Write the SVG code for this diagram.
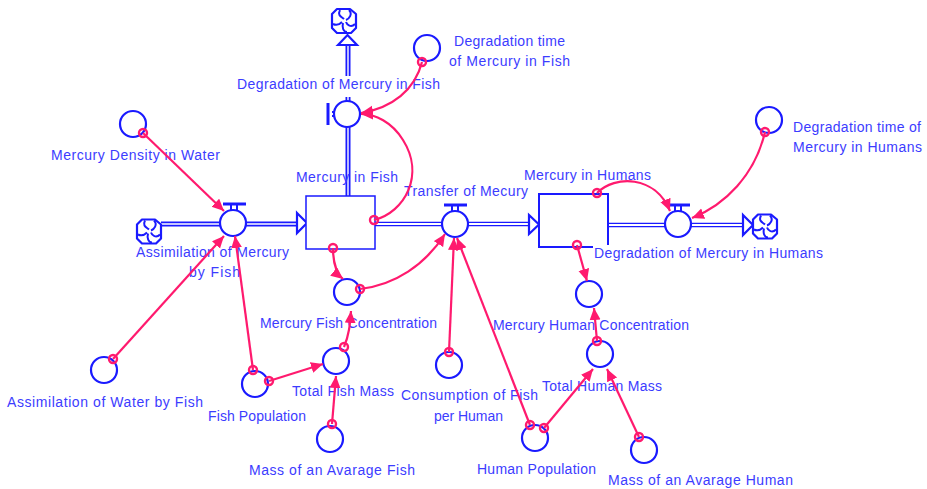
<svg xmlns="http://www.w3.org/2000/svg" width="927" height="489" viewBox="0 0 927 489">
<defs>
<marker id="a" markerUnits="userSpaceOnUse" markerWidth="14" markerHeight="12" refX="12" refY="5.5" orient="auto"><path d="M0 0L12 5.5L0 11z" fill="#ff1a6e"/></marker>
<g id="cloud"><path d="M-7 -12H6L12 -7V7L7 12H-7L-12 7V-7z" fill="#fff" stroke="#1a1aff" stroke-width="2.2" stroke-linejoin="round"/><path d="M-4 -11C-7 -5 -2 -4 0 -2M5 -11C9 -7 5 -2 2 -1M11 3C7 7 3 4 2 1M3 11C-1 11 -2 6 -1 2M-11 3C-7 5 -4 3 -2 1" fill="none" stroke="#1a1aff" stroke-width="2"/></g>
</defs>
<style>
text{font-family:"Liberation Sans",Arial,sans-serif;font-size:14px;fill:#3c3cff}
.c{fill:#fff;stroke:#1a1aff;stroke-width:2.2}
.f{fill:none;stroke:#1a1aff;stroke-width:5}
.fi{fill:none;stroke:#fff;stroke-width:1.4}
.g{fill:none;stroke:#1a1aff;stroke-width:4.4}
.gi{fill:none;stroke:#fff;stroke-width:1.8}
.h{fill:#fff;stroke:#1a1aff;stroke-width:2.2}
.l{fill:none;stroke:#ff1a6e;stroke-width:2.2;marker-end:url(#a)}
.o{fill:none;stroke:#ff1a6e;stroke-width:2.4}
.v{fill:none;stroke:#1a1aff;stroke-width:2}
.b{fill:none;stroke:#1a1aff;stroke-width:3}
</style>
<g id="flows">
<path class="f" d="M161 224H300M348 97V196M348 45V76"/>
<path class="fi" d="M161 224H300M348 97V196M348 45V76"/>
<path class="g" d="M375 224H530M608 225H745"/>
<path class="gi" d="M375 224H530M608 225H745"/>
<path class="h" d="M297 213L307 223L297 233zM338 45L347.500 35L357 45zM529 215L539 224.500L529 234zM743 215L753 225L743 235z"/>
</g>
<g id="node-stock-fish"><rect x="306" y="196" width="69" height="53" fill="#fff" stroke="#1a1aff" stroke-width="1.500"/><text x="296" y="182" textLength="102">Mercury in Fish</text></g>
<g id="node-stock-humans"><path d="M608 194H539V247H593" fill="#fff" stroke="none"/><path d="M608 245V194H539V247H593" fill="none" stroke="#1a1aff" stroke-width="2"/><text x="524" y="180" textLength="127">Mercury in Humans</text></g>
<g id="node-cloud-source"><use href="#cloud" x="149" y="231.500"/></g>
<g id="node-cloud-top"><use href="#cloud" x="344" y="21"/></g>
<g id="node-cloud-right"><use href="#cloud" x="765" y="226.500"/></g>
<g id="node-assimilation"><path class="b" d="M223 204H246"/><path class="v" d="M231 205V211M237 205V211"/><circle class="c" cx="233" cy="223" r="13"/><text x="136" y="257" textLength="153">Assimilation of Mercury</text><text x="189" y="277" textLength="51">by Fish</text></g>
<g id="node-degradation-fish"><path class="b" d="M328 103V125"/><path class="v" d="M332 112H335M332 116H335"/><circle class="c" cx="347" cy="114" r="13"/><text x="237" y="89" textLength="203">Degradation of Mercury in Fish</text></g>
<g id="node-transfer"><path class="b" d="M444 205H467"/><path class="v" d="M452 206V212M458 206V212"/><circle class="c" cx="455" cy="224" r="13"/><text x="404" y="196" textLength="124">Transfer of Mecury</text></g>
<g id="node-degradation-humans"><path class="b" d="M668 205H690"/><path class="v" d="M675 206V212M681 206V212"/><circle class="c" cx="678" cy="224" r="13"/><text x="594" y="258" textLength="229">Degradation of Mercury in Humans</text></g>
<g id="node-degr-time-fish"><circle class="c" cx="427" cy="48" r="13"/><text x="454" y="46" textLength="111">Degradation time</text><text x="449" y="66" textLength="121">of Mercury in Fish</text></g>
<g id="node-density"><circle class="c" cx="133" cy="124" r="13"/><text x="51" y="160" textLength="169">Mercury Density in Water</text></g>
<g id="node-degr-time-humans"><circle class="c" cx="769" cy="120" r="13"/><text x="793" y="132" textLength="128">Degradation time of</text><text x="793" y="152" textLength="129">Mercury in Humans</text></g>
<g id="node-fish-conc"><circle class="c" cx="347" cy="292" r="13"/><text x="260" y="328" textLength="177">Mercury Fish Concentration</text></g>
<g id="node-human-conc"><circle class="c" cx="589" cy="294" r="13"/><text x="493" y="330" textLength="196">Mercury Human Concentration</text></g>
<g id="node-total-fish"><circle class="c" cx="336" cy="361" r="13"/><text x="292" y="396" textLength="102">Total Fish Mass</text></g>
<g id="node-total-human"><circle class="c" cx="600" cy="354" r="13"/><text x="542" y="391" textLength="120">Total Human Mass</text></g>
<g id="node-fish-pop"><circle class="c" cx="255" cy="384" r="13"/><text x="208" y="421" textLength="98">Fish Population</text></g>
<g id="node-water"><circle class="c" cx="104" cy="370" r="13"/><text x="7" y="407" textLength="196">Assimilation of Water by Fish</text></g>
<g id="node-mass-fish"><circle class="c" cx="330" cy="439" r="13"/><text x="249" y="475" textLength="166">Mass of an Avarage Fish</text></g>
<g id="node-consumption"><circle class="c" cx="449" cy="365" r="13"/><text x="401" y="400" textLength="137">Consumption of Fish</text><text x="434" y="421" textLength="69">per Human</text></g>
<g id="node-human-pop"><circle class="c" cx="535" cy="438" r="13"/><text x="477" y="474" textLength="119">Human Population</text></g>
<g id="node-mass-human"><circle class="c" cx="644" cy="450" r="13"/><text x="608" y="485" textLength="185">Mass of an Avarage Human</text></g>
<g id="connectors">
<path class="l" d="M143 133L224 211"/>
<path class="l" d="M113 359L224 236"/>
<path class="l" d="M253 370L235 236"/>
<path class="l" d="M269 381L323 364"/>
<path class="l" d="M422 62C415 90 392 108 361 113"/>
<path class="l" d="M374 220C405 212 425 175 403 140C392 122 375 114 361 114"/>
<path class="l" d="M333 248C333 265 338 275 343 279"/>
<path class="l" d="M360 289C395 285 425 265 445 234"/>
<path class="l" d="M344 347C349 335 350 325 351 311"/>
<path class="l" d="M332 424L336 376"/>
<path class="l" d="M449 352L454 238"/>
<path class="l" d="M530 425L457 238"/>
<path class="l" d="M544 428L593 369"/>
<path class="l" d="M639 437L607 369"/>
<path class="l" d="M597 341L594 308"/>
<path class="l" d="M577 245L587 281"/>
<path class="l" d="M597 193C615 175 655 175 670 211"/>
<path class="l" d="M765 132C755 175 725 205 692 218"/>
<g class="o">
<circle cx="143" cy="133" r="4"/><circle cx="113" cy="359" r="4"/><circle cx="253" cy="370" r="4"/><circle cx="269" cy="381" r="4"/><circle cx="422" cy="62" r="4"/><circle cx="374" cy="220" r="4"/><circle cx="333" cy="248" r="4"/><circle cx="360" cy="289" r="4"/><circle cx="344" cy="347" r="4"/><circle cx="332" cy="424" r="4"/><circle cx="449" cy="352" r="4"/><circle cx="530" cy="425" r="4"/><circle cx="544" cy="428" r="4"/><circle cx="639" cy="437" r="4"/><circle cx="597" cy="341" r="4"/><circle cx="577" cy="245" r="4"/><circle cx="597" cy="193" r="4"/><circle cx="765" cy="132" r="4"/>
</g>
</g>
</svg>
